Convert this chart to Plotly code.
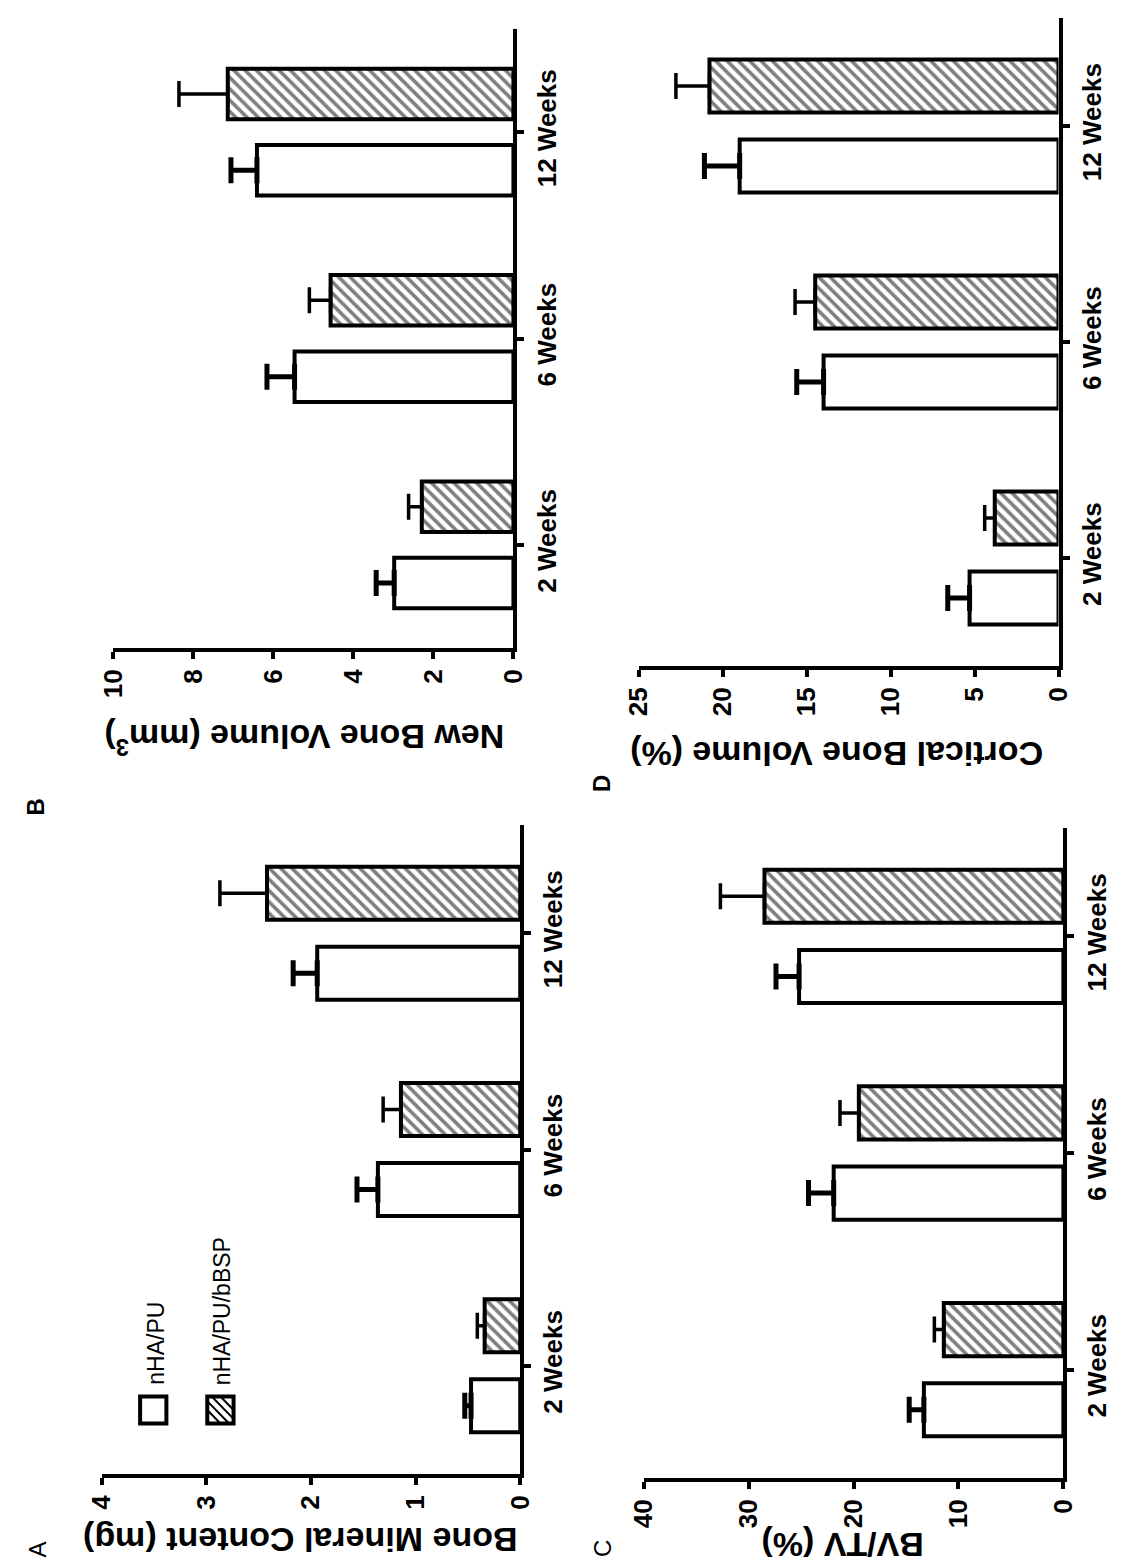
import plotly.graph_objects as go

W, H = 1128, 1566
FONT = "Liberation Sans, Arial, sans-serif"

weeks = ["2 Weeks", "6 Weeks", "12 Weeks"]
cat_pos = [0, 1, 2]
groups = ["nHA/PU", "nHA/PU/bBSP"]

# A: bone mineral content (mg)
bmc_pu = [0.47, 1.36, 1.94]
bmc_pu_err = [0.06, 0.20, 0.23]
bmc_bsp = [0.34, 1.14, 2.42]
bmc_bsp_err = [0.07, 0.17, 0.45]

# B: new bone volume (mm3)
nbv_pu = [2.98, 5.47, 6.41]
nbv_pu_err = [0.45, 0.69, 0.65]
nbv_bsp = [2.29, 4.57, 7.14]
nbv_bsp_err = [0.33, 0.53, 1.22]

# C: BV/TV (%)
bvtv_pu = [13.3, 21.9, 25.2]
bvtv_pu_err = [1.4, 2.4, 2.2]
bvtv_bsp = [11.4, 19.5, 28.5]
bvtv_bsp_err = [0.9, 1.8, 4.2]

# D: cortical bone volume (%)
cbv_pu = [5.3, 14.0, 19.0]
cbv_pu_err = [1.3, 1.6, 2.1]
cbv_bsp = [3.8, 14.5, 20.8]
cbv_bsp_err = [0.6, 1.2, 2.0]


def px_x(x):
    return x / W


def px_y(y):
    return 1 - y / H


# panel boxes in pixels: (left, right, top, bottom)
panels = [
    dict(box=(88, 518, 825, 1474), vmax=4, dtick=1,
         pu=bmc_pu, pue=bmc_pu_err, bsp=bmc_bsp, bspe=bmc_bsp_err,
         title="Bone Mineral Content (mg)", tpos=(292, 1540),
         label="A", lpos=(22, 1549), lbold=False),
    dict(box=(100, 511, 29, 648), vmax=10, dtick=2,
         pu=nbv_pu, pue=nbv_pu_err, bsp=nbv_bsp, bspe=nbv_bsp_err,
         title="New Bone Volume (mm<sup>3</sup>)", tpos=(296, 740),
         label="B", lpos=(20, 807), lbold=True),
    dict(box=(645, 1076, 828, 1478), vmax=40, dtick=10,
         pu=bvtv_pu, pue=bvtv_pu_err, bsp=bvtv_bsp, bspe=bvtv_bsp_err,
         title="BV/TV (%)", tpos=(849, 1545),
         label="C", lpos=(602, 1548), lbold=False),
    dict(box=(640, 1071, 18, 666), vmax=25, dtick=5,
         pu=cbv_pu, pue=cbv_pu_err, bsp=cbv_bsp, bspe=cbv_bsp_err,
         title="Cortical Bone Volume (%)", tpos=(843, 754),
         label="D", lpos=(601, 784), lbold=True),
]

BAR_W = 0.245
OFF_PU = -0.185 - BAR_W / 2
OFF_BSP = 0.185 - BAR_W / 2

fig = go.Figure()
layout_axes = {}
annotations = []

tick_font = dict(family=FONT, size=26, color="black", weight="bold")

for i, p in enumerate(panels, start=1):
    xs = "x" if i == 1 else f"x{i}"
    ys = "y" if i == 1 else f"y{i}"
    xname = "xaxis" if i == 1 else f"xaxis{i}"
    yname = "yaxis" if i == 1 else f"yaxis{i}"
    x0, x1, y0, y1 = p["box"]

    fig.add_trace(go.Bar(
        orientation="h", x=p["pu"], y=cat_pos, width=BAR_W, offset=OFF_PU,
        xaxis=xs, yaxis=ys, name=groups[0], showlegend=False,
        marker=dict(color="white", line=dict(color="black", width=4)),
        error_x=dict(type="data", array=p["pue"], arrayminus=[0, 0, 0],
                     symmetric=False, color="black", thickness=5, width=13),
    ))
    fig.add_trace(go.Bar(
        orientation="h", x=p["bsp"], y=cat_pos, width=BAR_W, offset=OFF_BSP,
        xaxis=xs, yaxis=ys, name=groups[1], showlegend=False,
        marker=dict(color="white", line=dict(color="black", width=4),
                    pattern=dict(shape="\\", size=8, solidity=0.45,
                                 fgcolor="black", bgcolor="white")),
        error_x=dict(type="data", array=p["bspe"], arrayminus=[0, 0, 0],
                     symmetric=False, color="black", thickness=3.5, width=13),
    ))

    layout_axes[xname] = dict(
        domain=[px_x(x0), px_x(x1)], range=[p["vmax"], 0], anchor=ys,
        showline=True, linewidth=4, linecolor="black",
        ticks="outside", ticklen=7, tickwidth=4, tickcolor="black",
        tickvals=list(range(0, p["vmax"] + 1, p["dtick"])),
        tickangle=-90, tickfont=tick_font,
        showgrid=False, zeroline=False,
    )
    layout_axes[yname] = dict(
        domain=[px_y(y1), px_y(y0)], range=[-0.5, 2.5], anchor=xs, side="right",
        showline=True, linewidth=4, linecolor="black",
        ticks="outside", ticklen=7, tickwidth=4, tickcolor="black",
        tickvals=cat_pos, ticktext=weeks, tickangle=-90, tickfont=tick_font,
        showgrid=False, zeroline=False,
    )

    tx, ty = p["tpos"]
    annotations.append(dict(
        text=p["title"], x=px_x(tx), y=px_y(ty), xref="paper", yref="paper",
        xanchor="center", yanchor="middle", showarrow=False, textangle=180,
        font=dict(family=FONT, size=34, color="black", weight="bold"),
    ))
    lx, ly = p["lpos"]
    annotations.append(dict(
        text=p["label"], x=px_x(lx), y=px_y(ly), xref="paper", yref="paper",
        xanchor="center", yanchor="middle", showarrow=False, textangle=-90,
        font=dict(family=FONT, size=24, color="black",
                  weight="bold" if p["lbold"] else "normal"),
    ))

# legend drawn inside panel A
shapes = []
SW = 27
legend_items = [(141, groups[0], False), (210, groups[1], True)]
for cx, name, hatched in legend_items:
    cy = 1410
    sx0, sx1 = cx - SW / 2, cx + SW / 2
    sy0, sy1 = cy - SW / 2, cy + SW / 2
    if hatched:
        for c in (-0.5 * SW, -0.17 * SW, 0.17 * SW, 0.5 * SW):
            if c >= 0:
                a, b = (sx0 + c, sy0), (sx1, sy1 - c)
            else:
                a, b = (sx0, sy0 - c), (sx1 + c, sy1)
            shapes.append(dict(
                type="path", xref="paper", yref="paper",
                path=f"M {px_x(a[0])} {px_y(a[1])} L {px_x(b[0])} {px_y(b[1])}",
                line=dict(color="black", width=2),
            ))
    shapes.append(dict(
        type="rect", xref="paper", yref="paper",
        x0=px_x(sx0), x1=px_x(sx1), y0=px_y(sy1), y1=px_y(sy0),
        line=dict(color="black", width=4), fillcolor="rgba(0,0,0,0)",
    ))
    annotations.append(dict(
        text=name, x=px_x(cx + 2), y=px_y(1387), xref="paper", yref="paper",
        xanchor="center", yanchor="bottom", showarrow=False, textangle=-90,
        font=dict(family=FONT, size=23, color="black"),
    ))

fig.update_layout(
    width=W, height=H, margin=dict(l=0, r=0, t=0, b=0),
    paper_bgcolor="white", plot_bgcolor="white",
    barmode="overlay", showlegend=False,
    font=dict(family=FONT, color="black"),
    annotations=annotations, shapes=shapes,
    **layout_axes,
)

fig.write_html("out.html")
